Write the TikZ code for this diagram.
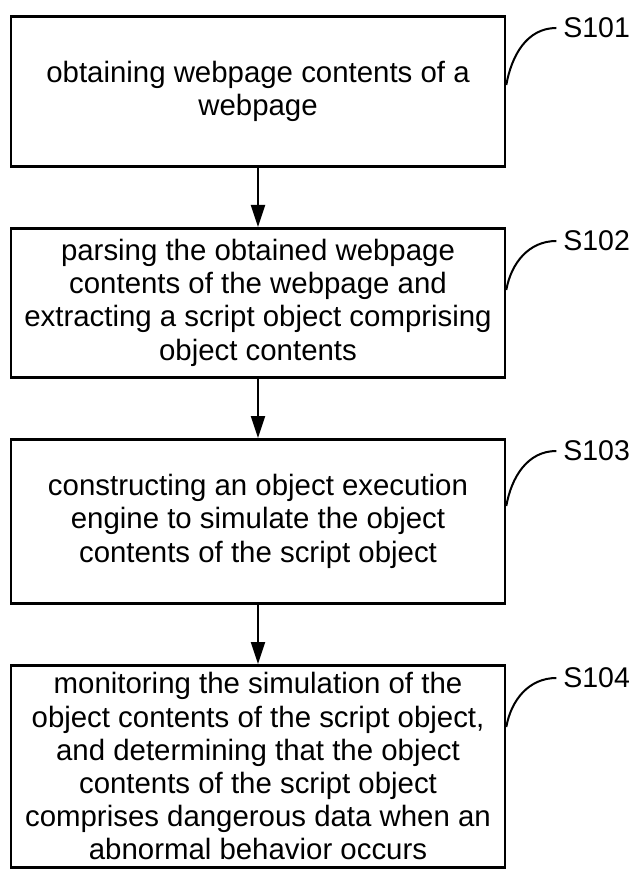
\documentclass[tikz,border=0pt]{standalone}
\usepackage{fontspec}
\setmainfont{Liberation Sans}
\usetikzlibrary{chains,positioning,arrows.meta}

\begin{document}
\begin{tikzpicture}
\tikzstyle{stepbox}=[draw,line width=1.3pt,minimum width=247pt,text width=240pt,
  inner sep=0pt,align=flush center,font=\fontsize{14.7}{16.6}\selectfont]
\tikzstyle{steplabel}=[anchor=west,font=\fontsize{14.25}{17}\selectfont]
\tikzstyle{flow}=[line width=1pt,-{Triangle[length=11pt,width=7pt]}]
\tikzstyle{hook}=[line width=1pt]

\useasboundingbox (0,0) rectangle (321pt,-435.5pt);

%% Draw the steps
\begin{scope}[start chain=1 going below,node distance=29.7pt]
    \node (s1)[on chain=1,stepbox,minimum height=75pt,anchor=north] at (129pt,-7.5pt)
        {obtaining webpage contents of a webpage};
    \node (s2)[on chain=1,stepbox,minimum height=74.5pt]
        {parsing the obtained webpage contents of the webpage and extracting a script object comprising object contents};
    \node (s3)[on chain=1,stepbox,minimum height=82pt]
        {constructing an object execution engine to simulate the object contents of the script object};
    \node (s4)[on chain=1,stepbox,minimum height=101pt]
        {monitoring the simulation of the object contents of the script object, and determining that the object contents of the script object comprises dangerous data when an abnormal behavior occurs};
\end{scope}

%% arrows between the steps
\draw [flow] (s1) -- (s2);
\draw [flow] (s2) -- (s3);
\draw [flow] (s3) -- (s4);

%% step numbers
\node (l1)[steplabel] at ([xshift=25pt,yshift=-6.5pt]s1.north east) {S101};
\node (l2)[steplabel] at ([xshift=25pt,yshift=-7pt]s2.north east) {S102};
\node (l3)[steplabel] at ([xshift=25pt,yshift=-6.5pt]s3.north east) {S103};
\node (l4)[steplabel] at ([xshift=25pt,yshift=-7pt]s4.north east) {S104};
\draw [hook] ([yshift=-35pt]s1.north east) to[out=80,in=180] (l1.west);
\draw [hook] ([yshift=-31.5pt]s2.north east) to[out=80,in=180] (l2.west);
\draw [hook] ([yshift=-34pt]s3.north east) to[out=80,in=180] (l3.west);
\draw [hook] ([yshift=-31.5pt]s4.north east) to[out=80,in=180] (l4.west);
\end{tikzpicture}
\end{document}
